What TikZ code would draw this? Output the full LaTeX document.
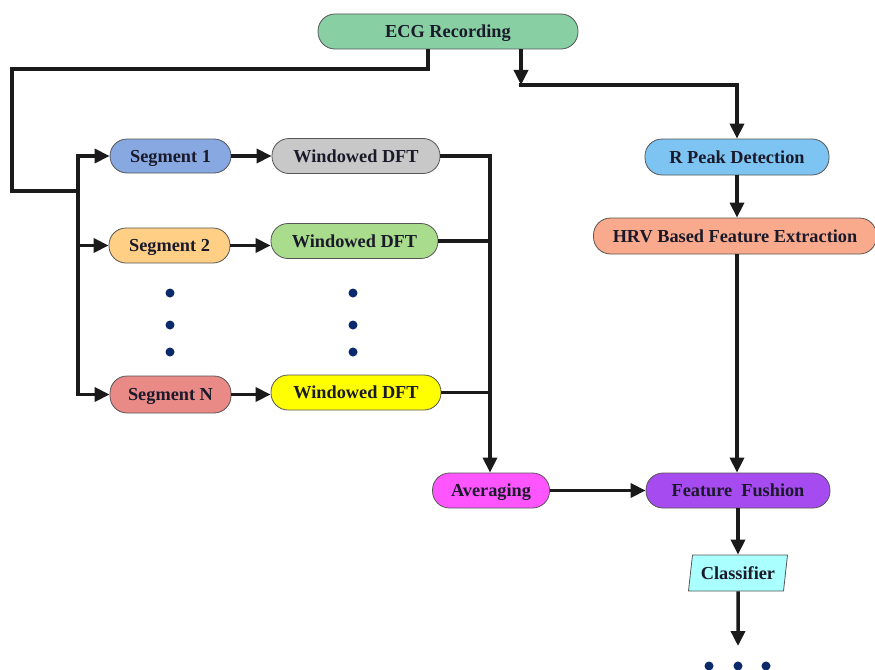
\documentclass[tikz,border=0pt]{standalone}
\usepackage{fontspec}
\setmainfont{Liberation Serif}
\usetikzlibrary{shapes.geometric,arrows.meta}
\definecolor{cecg}{HTML}{88D0A4}
\definecolor{cseg1}{HTML}{87A8E0}
\definecolor{cdft1}{HTML}{C8C8C8}
\definecolor{cseg2}{HTML}{FFCF86}
\definecolor{cdft2}{HTML}{A9DC8C}
\definecolor{csegn}{HTML}{E98A87}
\definecolor{cdft3}{HTML}{FFFF00}
\definecolor{cavg}{HTML}{FF55FF}
\definecolor{cff}{HTML}{A64BEF}
\definecolor{crp}{HTML}{7DC4F3}
\definecolor{chrv}{HTML}{F9A98C}
\definecolor{ccls}{HTML}{AAFFFF}
\definecolor{lin}{HTML}{1A1A1A}
\definecolor{boxline}{HTML}{555555}
\definecolor{txt}{HTML}{1A1A2A}
\definecolor{dotc}{HTML}{0B2A6B}
\begin{document}
\begin{tikzpicture}[x=1pt,y=-1pt,
  box/.style={draw=boxline, line width=0.8pt, rounded corners=17pt, minimum height=35pt, inner sep=0pt,
              font=\fontsize{18.3}{21}\selectfont\bfseries, text=txt, text height=14pt, text depth=2pt},
  conn/.style={draw=lin, line width=3.5pt, line join=miter, -{Triangle[length=15pt,width=14pt]}},
  plain/.style={draw=lin, line width=3.5pt, line join=miter},
  dot/.style={circle, fill=dotc, inner sep=0pt, minimum size=9pt}]
\useasboundingbox (0,0) rectangle (875,669);

% nodes
\node[box,fill=cecg,minimum width=260pt] (ecg) at (448,31.5) {ECG Recording};
\node[box,fill=cseg1,minimum width=121pt,minimum height=34pt] (s1) at (170.5,156) {Segment 1};
\node[box,fill=cdft1,minimum width=168pt] (d1) at (356,156) {Windowed DFT};
\node[box,fill=cseg2,minimum width=121pt] (s2) at (169.5,245.5) {Segment 2};
\node[box,fill=cdft2,minimum width=167pt] (d2) at (354.5,241) {Windowed DFT};
\node[box,fill=csegn,minimum width=121pt,minimum height=37pt] (sn) at (170.5,394.5) {Segment N};
\node[box,fill=cdft3,minimum width=170pt] (d3) at (356,392.5) {Windowed DFT};
\node[box,fill=cavg,minimum width=117pt] (avg) at (491,490.5) {Averaging};
\node[box,fill=cff,minimum width=184pt] (ff) at (738,490.5) {Feature~~Fushion};
\node[box,fill=crp,minimum width=184pt,minimum height=36pt] (rp) at (737,157) {R Peak Detection};
\node[box,fill=chrv,minimum width=283pt,minimum height=36pt] (hrv) at (735,236) {HRV Based Feature Extraction};
\node[trapezium,trapezium left angle=76,trapezium right angle=104,draw=boxline,line width=0.8pt,fill=ccls,
      minimum height=36pt,minimum width=99pt,trapezium stretches body,inner sep=0pt,
      font=\fontsize{18.3}{21}\selectfont\bfseries,text=txt,text height=14pt,text depth=2pt] (cls) at (738,573) {Classifier};

% dots
\node[dot] (la) at (170,293) {};
\node[dot] (lb) at (170,325) {};
\node[dot] (lc) at (170,352) {};
\node[dot] (ra) at (353,293) {};
\node[dot] (rb) at (353,325) {};
\node[dot] (rc) at (353,352) {};
\node[dot] (ea) at (709,666) {};
\node[dot] (eb) at (738,666) {};
\node[dot] (ec) at (766,666) {};

% coordinates
\coordinate (ltop) at (428,69);
\coordinate (lc1) at (12,69);
\coordinate (lc2) at (12,191);
\coordinate (split) at (78,191);
\coordinate (mtop) at (490,156);
\coordinate (rt) at (521,85);
\coordinate (fin) at (738,646);

% left branch
\draw[plain] (ecg.south -| ltop) -- (ltop) -- (lc1) -- (lc2) -- (split);
\draw[conn] (split) |- (s1.west);
\draw[conn] (split) |- (s2.west);
\draw[conn] (split) |- (sn.west);
\draw[conn] (s1.east) -- (s1.east -| d1.west);
\draw[conn] (s2.east) -- (s2.east -| d2.west);
\draw[conn] (sn.east) -- (sn.east -| d3.west);
\draw[conn] (d1.east) -- (mtop) -- (mtop |- avg.north);
\draw[plain] (d2.east) -- (d2.east -| mtop);
\draw[plain] (d3.east) -- (d3.east -| mtop);
\draw[conn] (avg.east) -- (ff.west);

% right branch
\draw[conn] (ecg.south -| rt) -- (rt);
\draw[conn] ([xshift=-1.75pt]rt) -- (rt -| rp.north) -- (rp.north);
\draw[conn] (rp.south) -- (rp.south |- hrv.north);
\draw[conn] (rp.south |- hrv.south) -- (rp.south |- ff.north);
\draw[conn] (ff.south) -- (ff.south |- cls.north);
\draw[conn] (cls.south) -- (fin);
\end{tikzpicture}
\end{document}
